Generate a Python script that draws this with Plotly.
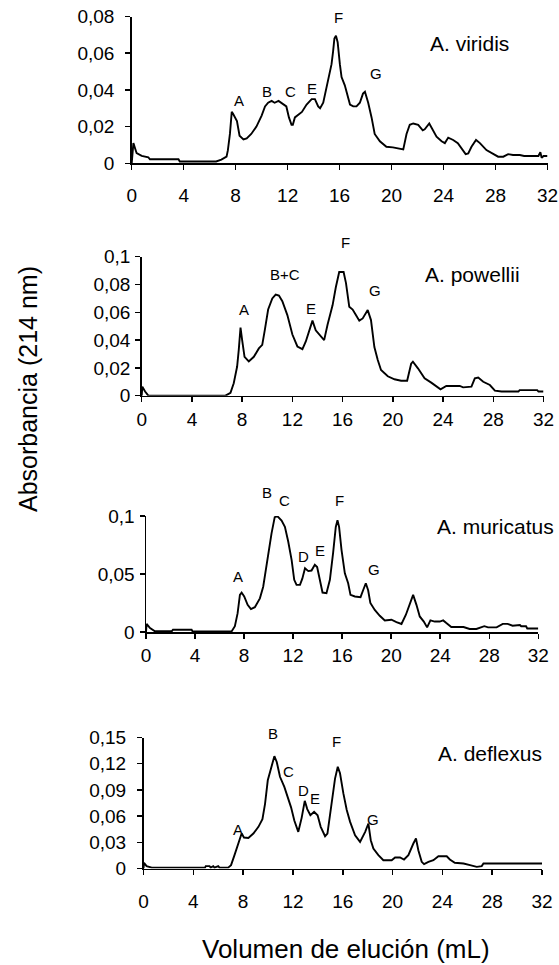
import plotly.graph_objects as go

# ---------------- data ----------------
species = ["A. viridis", "A. powellii", "A. muricatus", "A. deflexus"]

x_viridis = [0, 0.13, 0.38, 0.77, 1.28, 1.4, 3.6, 3.7, 6.5, 6.9, 7.3, 7.4, 7.56, 7.7, 7.8, 8.1, 8.3, 8.6,
             8.85, 9.2, 9.6, 10.0, 10.26, 10.5, 10.77, 11.0, 11.3, 11.67, 11.9, 12.1, 12.3, 12.4, 12.56, 13.1,
             13.46, 13.85, 14.1, 14.35, 14.5, 14.74, 15.0, 15.38, 15.5, 15.6, 15.72, 15.85, 16.02, 16.15, 16.4,
             16.66, 16.8, 17.05, 17.3, 17.56, 17.8, 17.95, 18.2, 18.46, 18.7, 19.1, 19.6, 20.1, 20.6, 20.9,
             21.15, 21.4, 21.67, 22.05, 22.4, 22.55, 22.9, 23.2, 23.46, 23.85, 24.1, 24.36, 24.74, 25.1, 25.4,
             25.7, 25.9, 26.15, 26.5, 26.8, 27.3, 27.8, 28.2, 28.6, 28.97, 29.35, 29.87, 30.2, 31.3, 31.45,
             31.55, 31.7, 32.0]
y_viridis = [0, 0.011, 0.0055, 0.004, 0.0033, 0.0022, 0.0022, 0.001, 0.001, 0.002, 0.0036, 0.007, 0.016,
             0.028, 0.027, 0.023, 0.015, 0.013, 0.0136, 0.016, 0.02, 0.026, 0.031, 0.033, 0.034, 0.033, 0.034,
             0.032, 0.031, 0.025, 0.021, 0.021, 0.025, 0.028, 0.032, 0.035, 0.035, 0.031, 0.030, 0.033, 0.042,
             0.054, 0.061, 0.068, 0.0695, 0.066, 0.054, 0.047, 0.0425, 0.035, 0.032, 0.031, 0.031, 0.033, 0.038,
             0.039, 0.033, 0.025, 0.016, 0.012, 0.009, 0.0087, 0.008, 0.0076, 0.016, 0.021, 0.0217, 0.021, 0.018,
             0.0185, 0.0217, 0.018, 0.0145, 0.012, 0.011, 0.014, 0.0127, 0.011, 0.008, 0.005, 0.0054, 0.009,
             0.0127, 0.011, 0.0072, 0.005, 0.0036, 0.0036, 0.005, 0.0045, 0.0045, 0.004, 0.004, 0.006, 0.003,
             0.004, 0.004]

x_powellii = [0, 0.05, 0.27, 0.53, 6.67, 7.07, 7.33, 7.6, 7.73, 7.87, 8.0, 8.19, 8.53, 8.93, 9.33, 9.6, 9.8,
              10.07, 10.4, 10.67, 10.93, 11.2, 11.6, 12.0, 12.4, 12.8, 13.07, 13.33, 13.6, 13.86, 14.26, 14.53,
              14.8, 15.2, 15.46, 15.73, 16.08, 16.27, 16.53, 16.8, 17.06, 17.33, 17.6, 18.0, 18.26, 18.53, 18.8,
              19.06, 19.6, 20.13, 20.66, 21.14, 21.46, 21.6, 22.0, 22.53, 23.06, 23.46, 23.8, 24.26, 25.33, 25.6,
              26.26, 26.53, 26.8, 27.2, 27.73, 28.13, 28.66, 30.0, 30.1, 31.5, 31.6, 32.0]
y_powellii = [0, 0.0065, 0.003, 0, 0, 0.002, 0.009, 0.021, 0.033, 0.049, 0.040, 0.028, 0.0246, 0.028, 0.034,
              0.0366, 0.047, 0.062, 0.070, 0.0728, 0.072, 0.068, 0.058, 0.044, 0.0354, 0.0335, 0.039, 0.046,
              0.054, 0.047, 0.043, 0.040, 0.051, 0.065, 0.078, 0.089, 0.089, 0.081, 0.064, 0.062, 0.058, 0.054,
              0.0556, 0.0616, 0.0544, 0.035, 0.0257, 0.0185, 0.014, 0.0118, 0.0108, 0.0108, 0.023, 0.0245,
              0.0197, 0.0125, 0.0094, 0.007, 0.0046, 0.007, 0.007, 0.006, 0.0065, 0.0125, 0.013, 0.010, 0.0077,
              0.0036, 0.003, 0.003, 0.004, 0.004, 0.003, 0.003]

x_muricatus = [0, 0.05, 0.33, 0.73, 2.1, 2.2, 3.72, 3.8, 6.98, 7.25, 7.47, 7.66, 7.8, 8.01, 8.29, 8.56, 8.88,
               9.29, 9.56, 9.75, 10.0, 10.24, 10.5, 10.73, 11.06, 11.33, 11.6, 11.88, 12.09, 12.28, 12.56, 12.75,
               12.97, 13.24, 13.5, 13.77, 13.96, 14.18, 14.4, 14.72, 15.0, 15.26, 15.48, 15.62, 15.75, 15.95,
               16.22, 16.49, 16.68, 17.04, 17.5, 17.71, 17.93, 18.12, 18.3, 18.66, 19.07, 19.48, 20.02, 20.43,
               20.84, 21.2, 21.52, 21.79, 22.06, 22.33, 22.66, 22.93, 23.2, 23.55, 23.96, 24.24, 24.5, 24.9, 25.9,
               26.4, 26.95, 27.36, 27.6, 27.9, 28.6, 29.1, 29.5, 29.9, 30.5, 30.6, 31.0, 31.1, 32.0]
y_muricatus = [0, 0.007, 0.0034, 0.0006, 0.0006, 0.002, 0.002, 0.0005, 0.0005, 0.005, 0.016, 0.032, 0.034,
               0.0306, 0.0234, 0.0197, 0.0214, 0.029, 0.039, 0.053, 0.0677, 0.085, 0.099, 0.0997, 0.096, 0.0906,
               0.078, 0.062, 0.045, 0.0406, 0.0406, 0.046, 0.055, 0.0525, 0.053, 0.058, 0.056, 0.045, 0.034,
               0.0334, 0.045, 0.068, 0.0906, 0.0963, 0.0906, 0.0706, 0.0506, 0.042, 0.032, 0.0306, 0.030, 0.036,
               0.042, 0.036, 0.025, 0.019, 0.014, 0.010, 0.0106, 0.0086, 0.0069, 0.0149, 0.025, 0.032, 0.0234,
               0.0134, 0.009, 0.004, 0.010, 0.009, 0.009, 0.010, 0.0077, 0.0043, 0.0043, 0.0026, 0.0026, 0.004,
               0.005, 0.004, 0.004, 0.007, 0.007, 0.0054, 0.006, 0.005, 0.005, 0.003, 0.003]

x_deflexus = [0, 0.04, 0.25, 0.66, 4.94, 5.0, 5.3, 5.4, 5.6, 5.7, 6.0, 6.1, 6.8, 7.03, 7.3, 7.56, 7.75, 7.88,
              8.07, 8.42, 8.82, 9.23, 9.55, 9.76, 9.98, 10.24, 10.51, 10.7, 10.96, 11.31, 11.58, 11.85, 12.11,
              12.43, 12.7, 12.95, 13.15, 13.4, 13.7, 13.98, 14.23, 14.58, 14.77, 15.11, 15.38, 15.6, 15.78, 16.05,
              16.32, 16.59, 16.99, 17.39, 17.8, 18.06, 18.25, 18.46, 18.86, 19.26, 19.93, 20.2, 20.6, 20.92,
              21.27, 21.67, 21.88, 22.07, 22.34, 22.53, 22.88, 23.28, 23.68, 24.35, 24.6, 25.0, 25.7, 26.22,
              26.76, 27.16, 27.3, 32.0]
y_deflexus = [0, 0.0065, 0.0027, 0.001, 0.001, 0.0027, 0.0027, 0.001, 0.0027, 0.001, 0.0027, 0.001, 0.001,
              0.0038, 0.015, 0.0256, 0.034, 0.040, 0.0355, 0.035, 0.040, 0.0477, 0.0565, 0.074, 0.101, 0.116,
              0.1286, 0.122, 0.105, 0.0935, 0.082, 0.070, 0.055, 0.042, 0.058, 0.0775, 0.068, 0.061, 0.065, 0.061,
              0.0477, 0.037, 0.040, 0.0744, 0.103, 0.1164, 0.109, 0.086, 0.067, 0.0534, 0.038, 0.0305, 0.042,
              0.0515, 0.0324, 0.0229, 0.0153, 0.0095, 0.0095, 0.0126, 0.0126, 0.0103, 0.0153, 0.0286, 0.0344,
              0.021, 0.0076, 0.005, 0.0076, 0.0095, 0.014, 0.014, 0.0103, 0.0065, 0.0057, 0.0038, 0.0019, 0.0027,
              0.0057, 0.0057]

x_ticks = [0, 4, 8, 12, 16, 20, 24, 28, 32]
x_ticktext = ["0", "4", "8", "12", "16", "20", "24", "28", "32"]

yticks_viridis = [0, 0.02, 0.04, 0.06, 0.08]
yticktext_viridis = ["0", "0,02", "0,04", "0,06", "0,08"]
yticks_powellii = [0, 0.02, 0.04, 0.06, 0.08, 0.1]
yticktext_powellii = ["0", "0,02", "0,04", "0,06", "0,08", "0,1"]
yticks_muricatus = [0, 0.05, 0.1]
yticktext_muricatus = ["0", "0,05", "0,1"]
yticks_deflexus = [0, 0.03, 0.06, 0.09, 0.12, 0.15]
yticktext_deflexus = ["0", "0,03", "0,06", "0,09", "0,12", "0,15"]

peaks_viridis = ["A", "B", "C", "E", "F", "G"]
peaks_viridis_x = [8.25, 10.4, 12.2, 13.9, 15.9, 18.8]
peaks_viridis_y = [0.0344, 0.039, 0.039, 0.041, 0.0797, 0.049]

peaks_powellii = ["A", "B+C", "E", "F", "G"]
peaks_powellii_x = [8.13, 11.4, 13.5, 16.2, 18.6]
peaks_powellii_y = [0.062, 0.087, 0.063, 0.11, 0.076]

peaks_muricatus = ["A", "B", "C", "D", "E", "F", "G"]
peaks_muricatus_x = [7.52, 9.84, 11.33, 12.83, 14.2, 15.8, 18.6]
peaks_muricatus_y = [0.0477, 0.1206, 0.1134, 0.065, 0.0706, 0.1134, 0.054]

peaks_deflexus = ["A", "B", "C", "D", "E", "F", "G"]
peaks_deflexus_x = [7.62, 10.4, 11.63, 12.84, 13.77, 15.46, 18.46]
peaks_deflexus_y = [0.0447, 0.1546, 0.1107, 0.0897, 0.080, 0.145, 0.056]

# ---------------- layout ----------------
W, H = 559, 965
FONT = "Arial, Liberation Sans, sans-serif"

panels = [
    dict(x=x_viridis, y=y_viridis, ymax=0.08, yt=yticks_viridis, ytt=yticktext_viridis,
         pk=peaks_viridis, pkx=peaks_viridis_x, pky=peaks_viridis_y,
         box=(131.7, 547.5, 16.5, 163.3), lab=(428, 43.5), ystand=7, xstand=9),
    dict(x=x_powellii, y=y_powellii, ymax=0.1, yt=yticks_powellii, ytt=yticktext_powellii,
         pk=peaks_powellii, pkx=peaks_powellii_x, pky=peaks_powellii_y,
         box=(141.7, 543.5, 256.7, 395.7), lab=(423, 274), ystand=1, xstand=1),
    dict(x=x_muricatus, y=y_muricatus, ymax=0.1, yt=yticks_muricatus, ytt=yticktext_muricatus,
         pk=peaks_muricatus, pkx=peaks_muricatus_x, pky=peaks_muricatus_y,
         box=(146.0, 538.3, 516.0, 632.0), lab=(435, 526), ystand=1, xstand=1),
    dict(x=x_deflexus, y=y_deflexus, ymax=0.15, yt=yticks_deflexus, ytt=yticktext_deflexus,
         pk=peaks_deflexus, pkx=peaks_deflexus_x, pky=peaks_deflexus_y,
         box=(143.5, 542.0, 737.5, 868.5), lab=(436, 753), ystand=7, xstand=10),
]

fig = go.Figure()
annotations = []
axis_common = dict(showline=True, linecolor="black", linewidth=1.5, ticks="outside", ticklen=5,
                   tickwidth=1.5, tickcolor="black", showgrid=False, zeroline=False,
                   tickfont=dict(family=FONT, size=19, color="black"), fixedrange=True)

for i, p in enumerate(panels):
    n = "" if i == 0 else str(i + 1)
    l, r, t, b = p["box"]
    xd = [l / W, r / W]
    yd = [1 - b / H, 1 - t / H]
    fig.add_trace(go.Scatter(x=p["x"], y=p["y"], mode="lines",
                             line=dict(color="black", width=1.9),
                             xaxis="x" + n, yaxis="y" + n, showlegend=False, hoverinfo="skip"))
    fig.layout["xaxis" + n] = dict(domain=xd, range=[0, 32], tickmode="array", tickvals=x_ticks,
                                   ticktext=x_ticktext, anchor="y" + n, ticklabelstandoff=p["xstand"],
                                   **axis_common)
    fig.layout["yaxis" + n] = dict(domain=yd, range=[0, p["ymax"]], tickmode="array", tickvals=p["yt"],
                                   ticktext=p["ytt"], anchor="x" + n, ticklabelstandoff=p["ystand"],
                                   **axis_common)
    for txt, px_, py_ in zip(p["pk"], p["pkx"], p["pky"]):
        annotations.append(dict(text=txt, x=px_, xref="x" + n,
                                y=yd[0] + py_ / p["ymax"] * (yd[1] - yd[0]), yref="paper",
                                showarrow=False, xanchor="center", yanchor="middle",
                                font=dict(family=FONT, size=15, color="black")))
    annotations.append(dict(text=species[i], x=p["lab"][0] / W, y=1 - p["lab"][1] / H,
                            xref="paper", yref="paper", showarrow=False, xanchor="left",
                            yanchor="middle", font=dict(family=FONT, size=21, color="black")))

annotations.append(dict(text="Absorbancia (214 nm)", x=28 / W, y=1 - 389 / H, xref="paper", yref="paper",
                        textangle=-90, showarrow=False, xanchor="center", yanchor="middle",
                        font=dict(family=FONT, size=25, color="black")))
annotations.append(dict(text="Volumen de elución (mL)", x=345.5 / W, y=1 - 948.5 / H, xref="paper",
                        yref="paper", showarrow=False, xanchor="center", yanchor="middle",
                        font=dict(family=FONT, size=26, color="black")))

fig.update_layout(width=W, height=H, autosize=False, margin=dict(l=0, r=0, t=0, b=0, autoexpand=False),
                  paper_bgcolor="white", plot_bgcolor="white", annotations=annotations,
                  font=dict(family=FONT, color="black"))

fig.write_html("out.html", config={"displayModeBar": False, "staticPlot": True})

# remove the browser's default page margin so the figure sits at the window's corner
with open("out.html", encoding="utf-8") as f:
    html = f.read()
html = html.replace("<head>", "<head><style>html,body{margin:0;padding:0;overflow:hidden;}</style>", 1)
with open("out.html", "w", encoding="utf-8") as f:
    f.write(html)
